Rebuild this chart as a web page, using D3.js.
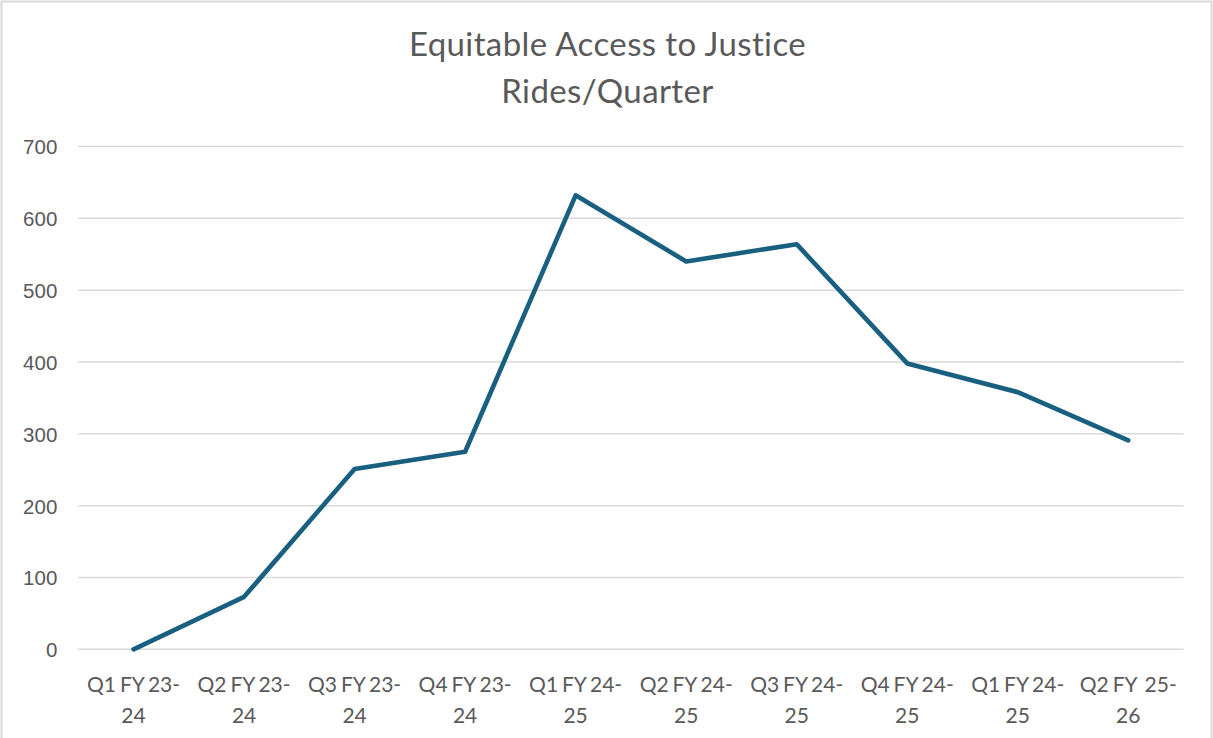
<!DOCTYPE html>
<html lang="en">
<head>
    <meta charset="UTF-8">
    <title>Equitable Access to Justice - Rides/Quarter</title>
    <style>
        body {
            margin: 0;
            background-color: #ffffff;
        }
        svg {
            display: block;
        }
        .grid line {
            stroke: #d9d9d9;
            stroke-width: 1.5px;
        }
        .y-label {
            font-family: "Liberation Sans", Arial, sans-serif;
            font-size: 20.5px;
            fill: #595959;
        }
        .x-label {
            font-family: Lato, "Open Sans", sans-serif;
            font-size: 21px;
            fill: #595959;
            white-space: pre;
            word-spacing: -1.5px;
        }
        .title {
            font-family: Lato, "Open Sans", sans-serif;
            font-size: 33px;
            letter-spacing: 0.4px;
            fill: #595959;
        }
    </style>
    <script src="https://d3js.org/d3.v7.min.js"></script>
</head>
<body>
    <div id="chart"></div>

    <script>
        // data
        const quarters = [
            "Q1 FY 23-24", "Q2 FY 23-24", "Q3 FY 23-24", "Q4 FY 23-24",
            "Q1 FY 24-25", "Q2 FY 24-25", "Q3 FY 24-25", "Q4 FY 24-25",
            "Q1 FY 24-25 ", "Q2 FY  25-26"
        ];
        const rides = [0, 73, 251, 275, 632, 540, 564, 398, 358, 291];
        const yTicks = [0, 100, 200, 300, 400, 500, 600, 700];
        const titleLines = ["Equitable Access to Justice", "Rides/Quarter"];

        const width = 1213;
        const height = 738;
        const margin = { top: 146.5, right: 29.5, bottom: 88.7, left: 78.3 };

        const svg = d3.select("#chart")
            .append("svg")
            .attr("width", width)
            .attr("height", height);

        // chart area border
        svg.append("rect")
            .attr("x", 1.5)
            .attr("y", 1.5)
            .attr("width", width - 3)
            .attr("height", height + 10)
            .attr("fill", "none")
            .attr("stroke", "#d9d9d9")
            .attr("stroke-width", 2);

        const x = d3.scaleBand()
            .domain(quarters)
            .range([margin.left, width - margin.right]);

        const y = d3.scaleLinear()
            .domain([0, 700])
            .range([height - margin.bottom, margin.top]);

        // gridlines
        svg.append("g")
            .attr("class", "grid")
            .selectAll("line")
            .data(yTicks)
            .enter().append("line")
            .attr("x1", margin.left)
            .attr("x2", width - margin.right)
            .attr("y1", d => y(d))
            .attr("y2", d => y(d));

        // y axis labels
        const yAxis = d3.axisLeft(y).tickValues(yTicks).tickSize(0).tickPadding(0);
        const yg = svg.append("g")
            .attr("transform", `translate(${margin.left - 21},0)`)
            .call(yAxis);
        yg.select(".domain").remove();
        yg.selectAll("text")
            .attr("class", "y-label")
            .attr("dy", "0.36em")
            .attr("font-size", null)
            .attr("font-family", null)
            .attr("fill", null);

        // x axis labels, wrapped after the hyphen
        const xg = svg.append("g");
        quarters.forEach(q => {
            const cut = q.indexOf("-") + 1;
            const lines = [q.slice(0, cut), q.slice(cut).trim()];
            const t = xg.append("text")
                .attr("class", "x-label")
                .attr("text-anchor", "middle")
                .attr("x", x(q) + x.bandwidth() / 2)
                .attr("y", 692);
            lines.forEach((s, i) => {
                t.append("tspan")
                    .attr("x", x(q) + x.bandwidth() / 2)
                    .attr("dy", i === 0 ? 0 : 31)
                    .text(s);
            });
        });

        // the series line
        const line = d3.line()
            .x((d, i) => x(quarters[i]) + x.bandwidth() / 2)
            .y(d => y(d));

        svg.append("path")
            .datum(rides)
            .attr("d", line)
            .attr("fill", "none")
            .attr("stroke", "#185f80")
            .attr("stroke-width", 4.6)
            .attr("stroke-linejoin", "round")
            .attr("stroke-linecap", "round");

        // title
        svg.append("g")
            .selectAll("text")
            .data(titleLines)
            .enter().append("text")
            .attr("class", "title")
            .attr("text-anchor", "middle")
            .attr("x", width / 2 + 1)
            .attr("y", (d, i) => 56 + i * 47)
            .text(d => d);
    </script>
</body>
</html>
